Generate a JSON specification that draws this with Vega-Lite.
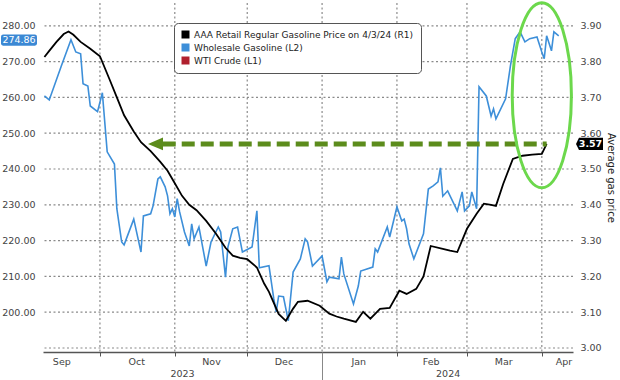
{
  "$schema": "https://vega.github.io/schema/vega-lite/v6.json",
  "width": 530,
  "height": 349,
  "autosize": {"type": "none"},
  "padding": {"left": 43, "top": 3, "right": 47, "bottom": 28},
  "background": "white",
  "config": {
    "font": "DejaVu Sans",
    "view": {"stroke": null},
    "axis": {"labelFont": "DejaVu Sans", "titleFont": "DejaVu Sans"},
    "legend": {"labelFont": "DejaVu Sans"}
  },
  "layer": [
    {
      "data": {"values": [
        {"date": "2023-10-01"}, {"date": "2023-11-01"}, {"date": "2023-12-01"}, {"date": "2024-01-01"},
        {"date": "2024-02-01"}, {"date": "2024-03-01"}, {"date": "2024-04-01"}
      ]},
      "mark": {"type": "rule", "color": "#8a8a8a", "strokeWidth": 1.2, "strokeDash": [2, 2.5], "opacity": 1},
      "encoding": {
        "x": {
          "field": "date", "type": "temporal",
          "scale": {"type": "utc", "domain": [{"year": 2023, "month": 9, "date": 7, "hours": 10, "utc": true}, {"year": 2024, "month": 4, "date": 13, "hours": 22, "utc": true}]},
          "axis": null
        }
      }
    },
    {
      "data": {"values": [
        {"price": 3.0}, {"price": 3.1}, {"price": 3.2}, {"price": 3.3}, {"price": 3.4},
        {"price": 3.5}, {"price": 3.6}, {"price": 3.7}, {"price": 3.8}, {"price": 3.9}
      ]},
      "mark": {"type": "rule", "color": "#8a8a8a", "strokeWidth": 1.2, "strokeDash": [2, 2.5], "opacity": 1},
      "encoding": {
        "y": {
          "field": "price", "type": "quantitative",
          "scale": {"domain": [2.9888, 3.9637], "nice": false, "zero": false},
          "axis": null
        }
      }
    },
    {
      "encoding": {
        "x": {
          "field": "date", "type": "temporal",
          "scale": {"type": "utc", "domain": [{"year": 2023, "month": 9, "date": 7, "hours": 10, "utc": true}, {"year": 2024, "month": 4, "date": 13, "hours": 22, "utc": true}]},
          "axis": {
            "orient": "bottom",
            "values": [
              {"year": 2023, "month": 10, "date": 1, "utc": true}, {"year": 2023, "month": 11, "date": 1, "utc": true},
              {"year": 2023, "month": 12, "date": 1, "utc": true}, {"year": 2024, "month": 1, "date": 1, "utc": true},
              {"year": 2024, "month": 2, "date": 1, "utc": true}, {"year": 2024, "month": 3, "date": 1, "utc": true},
              {"year": 2024, "month": 4, "date": 1, "utc": true}
            ],
            "labels": false, "ticks": true, "tickSize": 4, "tickColor": "#555", "tickWidth": 1,
            "domain": true, "domainColor": "#555", "domainWidth": 1.5,
            "grid": false, "title": null
          }
        },
        "y": {
          "field": "price", "type": "quantitative",
          "scale": {"domain": [188.88, 286.37], "nice": false, "zero": false},
          "axis": {
            "orient": "left", "values": [200, 210, 220, 230, 240, 250, 260, 270, 280], "format": ".2f",
            "ticks": false, "domain": false, "grid": false,
            "labelFontSize": 9.5, "labelColor": "#444", "labelPadding": 8, "labelOverlap": false, "title": null
          }
        }
      },
      "layer": [
        {
          "data": {"values": [
            {"date": "2023-09-08", "price": 260.4}, {"date": "2023-09-10", "price": 259.3}, {"date": "2023-09-15", "price": 268.8},
            {"date": "2023-09-19", "price": 276.1}, {"date": "2023-09-21", "price": 272.7}, {"date": "2023-09-23", "price": 272.2},
            {"date": "2023-09-24", "price": 263.8}, {"date": "2023-09-26", "price": 263.2}, {"date": "2023-09-27", "price": 257.6},
            {"date": "2023-09-30", "price": 256.0}, {"date": "2023-10-02", "price": 261.3}, {"date": "2023-10-04", "price": 244.8},
            {"date": "2023-10-07", "price": 241.4}, {"date": "2023-10-08", "price": 228.9}, {"date": "2023-10-10", "price": 219.6},
            {"date": "2023-10-11", "price": 218.8}, {"date": "2023-10-15", "price": 226.0}, {"date": "2023-10-18", "price": 216.8},
            {"date": "2023-10-19", "price": 226.9}, {"date": "2023-10-22", "price": 227.5}, {"date": "2023-10-23", "price": 229.7},
            {"date": "2023-10-25", "price": 237.2}, {"date": "2023-10-26", "price": 237.8}, {"date": "2023-10-28", "price": 235.0},
            {"date": "2023-10-29", "price": 232.5}, {"date": "2023-10-30", "price": 227.5}, {"date": "2023-10-31", "price": 228.9},
            {"date": "2023-11-01", "price": 226.6}, {"date": "2023-11-02", "price": 231.7}, {"date": "2023-11-03", "price": 228.0},
            {"date": "2023-11-05", "price": 222.4}, {"date": "2023-11-07", "price": 218.5}, {"date": "2023-11-08", "price": 224.7},
            {"date": "2023-11-09", "price": 220.5}, {"date": "2023-11-11", "price": 223.8}, {"date": "2023-11-14", "price": 212.9},
            {"date": "2023-11-16", "price": 219.6}, {"date": "2023-11-19", "price": 223.8}, {"date": "2023-11-20", "price": 222.4},
            {"date": "2023-11-22", "price": 209.8}, {"date": "2023-11-23", "price": 218.2}, {"date": "2023-11-25", "price": 223.3},
            {"date": "2023-11-27", "price": 223.8}, {"date": "2023-11-29", "price": 216.8}, {"date": "2023-12-03", "price": 218.2},
            {"date": "2023-12-05", "price": 228.3}, {"date": "2023-12-06", "price": 212.4}, {"date": "2023-12-10", "price": 213.0},
            {"date": "2023-12-12", "price": 203.7}, {"date": "2023-12-13", "price": 200.1}, {"date": "2023-12-14", "price": 204.5},
            {"date": "2023-12-16", "price": 204.3}, {"date": "2023-12-18", "price": 197.6}, {"date": "2023-12-20", "price": 211.2},
            {"date": "2023-12-23", "price": 214.9}, {"date": "2023-12-25", "price": 220.5}, {"date": "2023-12-26", "price": 219.6},
            {"date": "2023-12-28", "price": 212.9}, {"date": "2024-01-01", "price": 215.7}, {"date": "2024-01-03", "price": 208.5},
            {"date": "2024-01-04", "price": 209.8}, {"date": "2024-01-08", "price": 209.3}, {"date": "2024-01-09", "price": 215.4},
            {"date": "2024-01-10", "price": 210.7}, {"date": "2024-01-14", "price": 202.3}, {"date": "2024-01-16", "price": 207.3},
            {"date": "2024-01-17", "price": 211.5}, {"date": "2024-01-22", "price": 212.6}, {"date": "2024-01-23", "price": 217.7},
            {"date": "2024-01-24", "price": 216.8}, {"date": "2024-01-28", "price": 223.8}, {"date": "2024-01-29", "price": 221.0},
            {"date": "2024-02-01", "price": 229.4}, {"date": "2024-02-03", "price": 225.5}, {"date": "2024-02-04", "price": 226.0},
            {"date": "2024-02-05", "price": 223.3}, {"date": "2024-02-06", "price": 219.1}, {"date": "2024-02-08", "price": 214.9},
            {"date": "2024-02-12", "price": 221.9}, {"date": "2024-02-14", "price": 234.4}, {"date": "2024-02-16", "price": 235.3},
            {"date": "2024-02-18", "price": 236.4}, {"date": "2024-02-19", "price": 240.3}, {"date": "2024-02-20", "price": 232.4},
            {"date": "2024-02-22", "price": 233.9}, {"date": "2024-02-26", "price": 228.3}, {"date": "2024-02-28", "price": 233.6},
            {"date": "2024-02-29", "price": 228.3}, {"date": "2024-03-02", "price": 229.7}, {"date": "2024-03-03", "price": 233.6},
            {"date": "2024-03-05", "price": 228.9}, {"date": "2024-03-06", "price": 263.0}, {"date": "2024-03-09", "price": 260.4},
            {"date": "2024-03-11", "price": 254.8}, {"date": "2024-03-12", "price": 256.8}, {"date": "2024-03-13", "price": 254.0},
            {"date": "2024-03-17", "price": 259.6}, {"date": "2024-03-19", "price": 268.8}, {"date": "2024-03-21", "price": 276.4},
            {"date": "2024-03-23", "price": 278.3}, {"date": "2024-03-25", "price": 275.5}, {"date": "2024-03-27", "price": 276.4},
            {"date": "2024-03-30", "price": 276.9}, {"date": "2024-04-01", "price": 272.7}, {"date": "2024-04-02", "price": 270.8},
            {"date": "2024-04-03", "price": 277.2}, {"date": "2024-04-05", "price": 273.0}, {"date": "2024-04-06", "price": 278.3},
            {"date": "2024-04-08", "price": 277.2}
          ]},
          "mark": {"type": "line", "color": "#4a8fd0", "strokeWidth": 1.6},
          "encoding": {
            "color": {
              "datum": "Wholesale Gasoline (L2)", "type": "nominal",
              "scale": {"domain": ["AAA Retail Regular Gasoline Price on 4/3/24 (R1)", "Wholesale Gasoline (L2)", "WTI Crude (L1)"], "range": ["#000000", "#3d8fd9", "#b0202e"]},
              "legend": {
                "title": null, "orient": "none", "legendX": 131, "legendY": 20, "direction": "vertical",
                "symbolType": "square", "symbolSize": 64, "symbolStrokeWidth": 0,
                "labelFontSize": 9, "labelColor": "#222", "labelLimit": 400, "labelOffset": 4,
                "rowPadding": 3, "padding": 7, "strokeColor": "#555", "cornerRadius": 4, "fillColor": "#ffffff",
                "encode": {"symbols": {"update": {"fill": {"scale": "color", "field": "value"}, "stroke": {"value": "transparent"}, "opacity": {"value": 1}}}}
              }
            }
          }
        },
        {
          "data": {"values": [{"date": "2023-09-07T10:00:00Z", "price": 274.86, "label": "274.86"}]},
          "mark": {"type": "point", "shape": "M-0.88,-0.31 L0.88,-0.31 Q1,-0.31 1,-0.19 L1,0.19 Q1,0.31 0.88,0.31 L-0.88,0.31 Q-1,0.31 -1,0.19 L-1,-0.19 Q-1,-0.31 -0.88,-0.31 Z", "size": 1296, "filled": true, "color": "#3b88d4", "opacity": 1, "strokeWidth": 0, "xOffset": -24, "yOffset": -4}
        },
        {
          "data": {"values": [{"date": "2023-09-07T10:00:00Z", "price": 274.86, "label": "274.86"}]},
          "mark": {"type": "text", "color": "#ffffff", "fontSize": 9.5, "align": "center", "baseline": "middle", "dx": -24, "dy": -4},
          "encoding": {"text": {"field": "label"}}
        }
      ]
    },
    {
      "encoding": {
        "x": {
          "field": "date", "type": "temporal",
          "scale": {"type": "utc", "domain": [{"year": 2023, "month": 9, "date": 7, "hours": 10, "utc": true}, {"year": 2024, "month": 4, "date": 13, "hours": 22, "utc": true}]},
          "axis": {
            "orient": "bottom",
            "values": [
              {"year": 2023, "month": 9, "date": 15, "utc": true}, {"year": 2023, "month": 10, "date": 16, "utc": true},
              {"year": 2023, "month": 11, "date": 16, "utc": true}, {"year": 2023, "month": 12, "date": 16, "utc": true},
              {"year": 2024, "month": 1, "date": 16, "utc": true}, {"year": 2024, "month": 2, "date": 15, "utc": true},
              {"year": 2024, "month": 3, "date": 16, "utc": true}, {"year": 2024, "month": 4, "date": 10, "utc": true}
            ],
            "labelExpr": "utcFormat(datum.value, '%b')",
            "ticks": false, "grid": false, "domain": false,
            "labelFontSize": 9.5, "labelColor": "#444", "labelPadding": 4,
            "labelFlush": false, "labelOverlap": false, "labelBound": false, "title": null
          }
        },
        "y": {
          "field": "price", "type": "quantitative",
          "scale": {"domain": [2.9888, 3.9637], "nice": false, "zero": false},
          "axis": {
            "orient": "right", "values": [3.0, 3.1, 3.2, 3.3, 3.4, 3.5, 3.6, 3.7, 3.8, 3.9], "format": ".2f",
            "ticks": false, "domain": false, "grid": false,
            "labelFontSize": 9.5, "labelColor": "#444", "labelPadding": 7, "labelOverlap": false,
            "title": "Average gas price", "titleFontSize": 10, "titleFontWeight": "normal", "titleColor": "#222", "titlePadding": 4
          }
        }
      },
      "layer": [
        {
          "data": {"values": [
            {"date": "2023-09-08", "price": 3.813}, {"date": "2023-09-10", "price": 3.830}, {"date": "2023-09-13", "price": 3.855},
            {"date": "2023-09-16", "price": 3.877}, {"date": "2023-09-18", "price": 3.884}, {"date": "2023-09-20", "price": 3.875},
            {"date": "2023-09-23", "price": 3.855}, {"date": "2023-09-27", "price": 3.836}, {"date": "2023-10-01", "price": 3.815},
            {"date": "2023-10-05", "price": 3.750}, {"date": "2023-10-08", "price": 3.700}, {"date": "2023-10-11", "price": 3.650},
            {"date": "2023-10-15", "price": 3.605}, {"date": "2023-10-18", "price": 3.575}, {"date": "2023-10-22", "price": 3.550},
            {"date": "2023-10-26", "price": 3.520}, {"date": "2023-10-29", "price": 3.495}, {"date": "2023-11-01", "price": 3.460},
            {"date": "2023-11-04", "price": 3.425}, {"date": "2023-11-07", "price": 3.400}, {"date": "2023-11-10", "price": 3.385},
            {"date": "2023-11-14", "price": 3.355}, {"date": "2023-11-18", "price": 3.320}, {"date": "2023-11-22", "price": 3.280},
            {"date": "2023-11-25", "price": 3.258}, {"date": "2023-11-28", "price": 3.252}, {"date": "2023-12-01", "price": 3.248},
            {"date": "2023-12-05", "price": 3.225}, {"date": "2023-12-08", "price": 3.180}, {"date": "2023-12-10", "price": 3.157},
            {"date": "2023-12-14", "price": 3.095}, {"date": "2023-12-17", "price": 3.076}, {"date": "2023-12-20", "price": 3.110},
            {"date": "2023-12-22", "price": 3.129}, {"date": "2023-12-26", "price": 3.132}, {"date": "2023-12-31", "price": 3.118},
            {"date": "2024-01-04", "price": 3.096}, {"date": "2024-01-07", "price": 3.088}, {"date": "2024-01-10", "price": 3.082},
            {"date": "2024-01-15", "price": 3.073}, {"date": "2024-01-18", "price": 3.101}, {"date": "2024-01-21", "price": 3.082},
            {"date": "2024-01-25", "price": 3.109}, {"date": "2024-01-29", "price": 3.112}, {"date": "2024-02-02", "price": 3.160},
            {"date": "2024-02-05", "price": 3.151}, {"date": "2024-02-09", "price": 3.165}, {"date": "2024-02-12", "price": 3.200},
            {"date": "2024-02-15", "price": 3.285}, {"date": "2024-02-20", "price": 3.277}, {"date": "2024-02-23", "price": 3.272},
            {"date": "2024-02-26", "price": 3.268}, {"date": "2024-03-01", "price": 3.333}, {"date": "2024-03-05", "price": 3.375},
            {"date": "2024-03-08", "price": 3.403}, {"date": "2024-03-11", "price": 3.400}, {"date": "2024-03-13", "price": 3.397},
            {"date": "2024-03-16", "price": 3.458}, {"date": "2024-03-20", "price": 3.528}, {"date": "2024-03-24", "price": 3.537},
            {"date": "2024-03-28", "price": 3.540}, {"date": "2024-04-01", "price": 3.542}, {"date": "2024-04-03", "price": 3.570}
          ]},
          "mark": {"type": "line", "color": "#111111", "strokeWidth": 1.8},
          "encoding": {
            "color": {
              "datum": "AAA Retail Regular Gasoline Price on 4/3/24 (R1)", "type": "nominal",
              "scale": {"domain": ["AAA Retail Regular Gasoline Price on 4/3/24 (R1)", "Wholesale Gasoline (L2)", "WTI Crude (L1)"], "range": ["#000000", "#3d8fd9", "#b0202e"]}
            }
          }
        },
        {
          "data": {"values": [{"date": "2023-10-27", "end": "2024-04-03", "price": 3.57}]},
          "mark": {"type": "rule", "color": "#5c8c1c", "strokeWidth": 5, "strokeDash": [13, 6]},
          "encoding": {"x2": {"field": "end"}}
        },
        {
          "data": {"values": [{"date": "2023-10-24", "price": 3.57}]},
          "mark": {"type": "point", "shape": "M-1,0 L1,-0.85 L1,0.85 Z", "size": 225, "filled": true, "color": "#5c8c1c", "opacity": 1}
        },
        {
          "data": {"values": [{"date": "2024-04-01", "price": 3.706}]},
          "mark": {"type": "point", "shape": "M0,-1 C0.1767,-1 0.32,-0.5523 0.32,0 C0.32,0.5523 0.1767,1 0,1 C-0.1767,1 -0.32,0.5523 -0.32,0 C-0.32,-0.5523 -0.1767,-1 0,-1 Z", "size": 34225, "filled": false, "stroke": "#6cd84c", "strokeWidth": 3, "opacity": 1}
        },
        {
          "data": {"values": [{"date": "2024-04-13T22:00:00Z", "price": 3.57, "label": "3.57"}]},
          "mark": {"type": "point", "shape": "M-1,0 L-0.78,-0.45 L1,-0.45 L1,0.45 L-0.78,0.45 Z", "size": 729, "filled": true, "color": "#000000", "opacity": 1, "xOffset": 16.5}
        },
        {
          "data": {"values": [{"date": "2024-04-13T22:00:00Z", "price": 3.57, "label": "3.57"}]},
          "mark": {"type": "text", "color": "#ffffff", "fontSize": 9.5, "fontWeight": "bold", "align": "center", "baseline": "middle", "dx": 17.5},
          "encoding": {"text": {"field": "label"}}
        }
      ]
    },
    {
      "data": {"values": [{"date": "2024-01-01"}]},
      "mark": {"type": "rule", "opacity": 0},
      "encoding": {
        "x": {
          "field": "date", "type": "temporal",
          "scale": {"type": "utc", "domain": [{"year": 2023, "month": 9, "date": 7, "hours": 10, "utc": true}, {"year": 2024, "month": 4, "date": 13, "hours": 22, "utc": true}]},
          "axis": {
            "orient": "bottom",
            "values": [{"year": 2023, "month": 11, "date": 4, "utc": true}, {"year": 2024, "month": 1, "date": 1, "utc": true}, {"year": 2024, "month": 2, "date": 22, "utc": true}],
            "labelExpr": "utcmonth(datum.value) === 0 ? '' : utcFormat(datum.value, '%Y')",
            "ticks": true, "tickSize": 28, "tickColor": "#888",
            "tickOpacity": {"condition": {"test": "utcmonth(datum.value) === 0", "value": 1}, "value": 0},
            "domain": false, "grid": false, "labelPadding": -12, "labelFontSize": 9.5, "labelColor": "#444",
            "labelFlush": false, "labelOverlap": false, "labelBound": false, "title": null
          }
        }
      }
    }
  ],
  "resolve": {"scale": {"y": "independent"}, "axis": {"x": "independent", "y": "independent"}}
}
